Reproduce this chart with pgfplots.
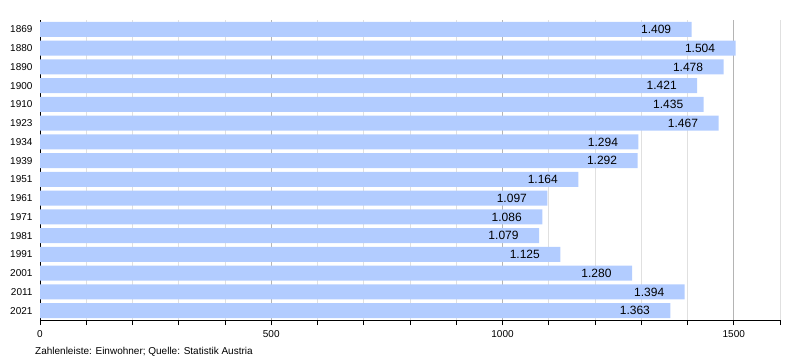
\documentclass[border=0pt]{standalone}
\usepackage{pgfplots}
\pgfplotsset{compat=1.18}
\usepackage{pgfplotstable}
\usepackage{fontspec}
\setmainfont{Liberation Sans}
\definecolor{barc}{RGB}{178,204,255}
\definecolor{gridl}{RGB}{224,224,224}
\definecolor{gridm}{RGB}{180,180,180}
\pgfplotstableread{
y x lab
0 1409 1.409
1 1504 1.504
2 1478 1.478
3 1421 1.421
4 1435 1.435
5 1467 1.467
6 1294 1.294
7 1292 1.292
8 1164 1.164
9 1097 1.097
10 1086 1.086
11 1079 1.079
12 1125 1.125
13 1280 1.280
14 1394 1.394
15 1363 1.363
}\data
\begin{document}
\begin{tikzpicture}[x=1bp,y=1bp]
\useasboundingbox (0,0) rectangle (800,360);
\begin{axis}[
  at={(40bp,40bp)}, anchor=south west,
  scale only axis, width=740bp, height=300bp,
  xbar, bar width=15bp,
  xmin=0, xmax=1600,
  ymin=-0.5, ymax=15.5, y dir=reverse,
  ytick={0,...,15},
  yticklabels={1869,1880,1890,1900,1910,1923,1934,1939,1951,1961,1971,1981,1991,2001,2011,2021},
  xtick={0,500,1000,1500},
  minor xtick={100,200,...,1600},
  xmajorgrids, xminorgrids,
  major grid style={gridm, line width=0.8pt},
  minor grid style={gridl, line width=0.8pt},
  axis x line*=bottom, axis y line*=left,
  axis line style={black, line width=0.8pt, -},
  tick align=outside,
  major tick length=5bp, minor tick length=5bp,
  x tick style={black, line width=0.8pt},
  minor x tick style={black, line width=0.8pt},
  y tick style={draw=none},
  tick label style={font=\fontsize{10bp}{12bp}\selectfont},
  yticklabel style={xshift=1bp},
  xticklabel style={yshift=-2bp},
  /pgf/number format/assume math mode=true,
  scaled x ticks=false,
  xticklabel={\pgfmathprintnumber[fixed,1000 sep={}]{\tick}},
  nodes near coords,
  point meta=explicit symbolic,
  every node near coord/.append style={font=\fontsize{12bp}{14bp}\selectfont, anchor=east, xshift=-17bp, text=black},
  clip=false,
]
\addplot[fill=barc, draw=none] table[x=x, y=y, meta=lab] {\data};
\end{axis}
\node[anchor=base west, font=\fontsize{10bp}{12bp}\selectfont, inner sep=0] at (35bp,6bp) {Zahlenleiste: Einwohner; Quelle: Statistik Austria};
\end{tikzpicture}
\end{document}
